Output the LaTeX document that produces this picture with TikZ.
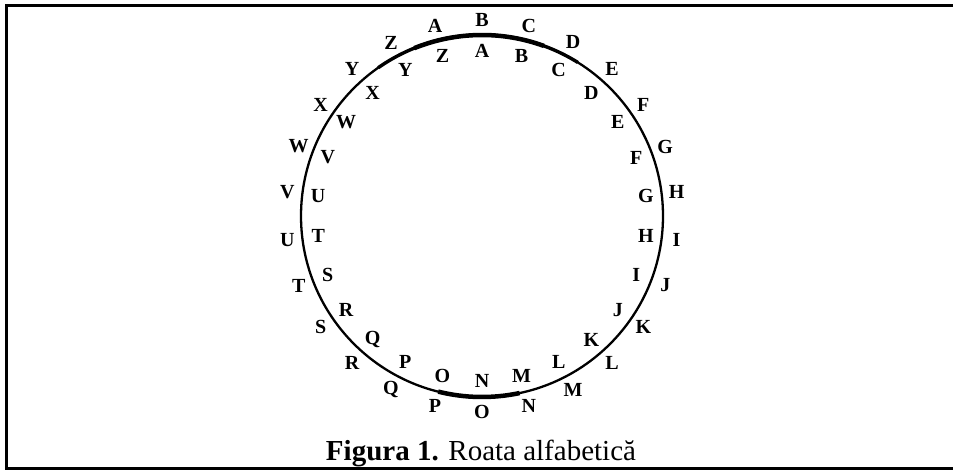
\documentclass[tikz,border=0pt]{standalone}
\usepackage{fontspec}
\setmainfont{Liberation Serif}
\begin{document}
\begin{tikzpicture}[x=1pt,y=-1pt,
  letter/.style={font=\fontsize{20}{20}\selectfont\bfseries, inner sep=0pt},
  rim/.style={line width=2.3pt},
  thickrim/.style={line width=4.5pt},
  midrim/.style={line width=3.4pt}]
\useasboundingbox (0,0) rectangle (953,470);
\draw[line width=3pt] (970,5.5) -- (6.5,5.5) -- (6.5,468.5) -- (970,468.5);
\coordinate (c) at (482,216);
\draw[rim] (c) circle[radius=181];
% thicker parts of the rim
\draw[midrim] ([shift={(-125:181)}]c) arc[start angle=-125, end angle=-58, radius=181];
\draw[thickrim] ([shift={(-112:181)}]c) arc[start angle=-112, end angle=-70, radius=181];
\draw[thickrim] ([shift={(104:181)}]c) arc[start angle=104, end angle=78, radius=181];
% letters
\foreach \k/\L in {0/A,1/B,2/C,3/D,4/E,5/F,6/G,7/H,8/I,9/J,10/K,11/L,12/M,13/N,14/O,15/P,16/Q,17/R,18/S,19/T,20/U,21/V,22/W,23/X,24/Y,25/Z}{
  \node[letter] (out\L) at ([shift={({-90+(\k-1)*360/26}:196)}]c) {\L};
  \node[letter] (in\L) at ([shift={({-90+\k*360/26}:165)}]c) {\L};
}
\node[anchor=base, font=\fontsize{29}{29}\selectfont, inner sep=0pt] (cap) at (481,460) {\textbf{Figura 1.} Roata alfabetică};
\end{tikzpicture}
\end{document}
